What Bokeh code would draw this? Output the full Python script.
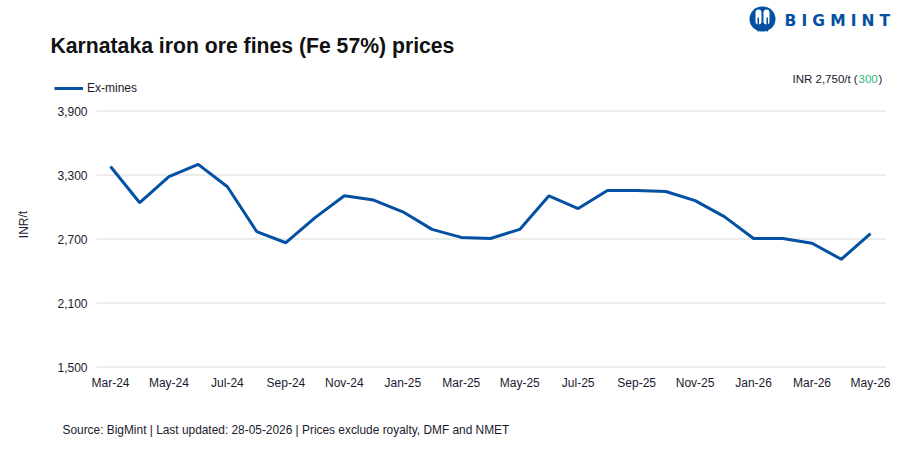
from bokeh.embed import file_html
from bokeh.models import BoxAnnotation, FixedTicker, Label, Legend, LegendItem, Range1d
from bokeh.plotting import figure
from bokeh.resources import INLINE

months = ['Mar-24', 'Apr-24', 'May-24', 'Jun-24', 'Jul-24', 'Aug-24', 'Sep-24', 'Oct-24', 'Nov-24',
          'Dec-24', 'Jan-25', 'Feb-25', 'Mar-25', 'Apr-25', 'May-25', 'Jun-25', 'Jul-25', 'Aug-25',
          'Sep-25', 'Oct-25', 'Nov-25', 'Dec-25', 'Jan-26', 'Feb-26', 'Mar-26', 'Apr-26', 'May-26']
ex_mines = [3380, 3040, 3285, 3400, 3190, 2770, 2665, 2900, 3105,
            3065, 2955, 2790, 2715, 2705, 2790, 3105, 2985, 3155,
            3155, 3145, 3060, 2910, 2705, 2705, 2660, 2510, 2750]
y_ticks = [1500, 2100, 2700, 3300, 3900]

FONT = "Liberation Sans"
TEXT = "#1a1a2e"
BLUE = "#0450a2"
WIDTH, HEIGHT = 907, 462


def dx(px):
    # page pixel to data x
    return (px - 110) * 26 / 760


def dy(py):
    # page pixel to data y
    return 3900 - (py - 110.5) * 2400 / 256


# the frame fills the whole figure, anything outside of it gets clipped
p = figure(width=WIDTH, height=HEIGHT, output_backend="svg", toolbar_location=None,
           x_range=Range1d(dx(0), dx(WIDTH)), y_range=Range1d(dy(HEIGHT), dy(0)),
           min_border=0)
p.outline_line_color = None
p.background_fill_color = "white"
p.border_fill_color = "white"
p.xgrid.visible = False
p.ygrid.visible = False

# gridlines
p.segment(dx(96), y_ticks, dx(885), y_ticks, color="#d9d9d9", line_width=1)

# Ex-mines line
line = p.line(list(range(len(months))), ex_mines, color=BLUE, line_width=3)

p.xaxis.ticker = FixedTicker(ticks=list(range(0, len(months), 2)))
p.xaxis.major_label_overrides = {i: months[i] for i in range(0, len(months), 2)}
p.yaxis.ticker = FixedTicker(ticks=y_ticks)
p.yaxis.major_label_overrides = {v: f"{v:,}" for v in y_ticks}
for ax in (p.xaxis[0], p.yaxis[0]):
    ax.axis_line_color = None
    ax.major_tick_line_color = None
    ax.minor_tick_line_color = None
    ax.major_label_text_font = FONT
    ax.major_label_text_font_size = "12px"
    ax.major_label_text_color = TEXT
p.xaxis.fixed_location = 1500
p.yaxis.fixed_location = dx(96)
p.xaxis.major_label_standoff = 3
p.yaxis.major_label_standoff = 3


def add_text(px, py, text, size, color=TEXT, style="normal", font=FONT, angle=0, align="left"):
    p.add_layout(Label(x=dx(px), y=dy(py), text=text, text_font=font, text_font_size=size,
                       text_color=color, text_font_style=style, text_baseline="middle",
                       angle=angle, text_align=align))


legend = Legend(items=[LegendItem(label="Ex-mines", renderers=[line])],
                location=(54, HEIGHT - 96), border_line_color=None,
                background_fill_alpha=0, margin=0, padding=0, glyph_width=29, glyph_height=16,
                label_standoff=4, label_text_font=FONT, label_text_font_size="12px",
                label_text_color=TEXT)
p.add_layout(legend, "center")

add_text(50, 45, "Karnataka iron ore fines (Fe 57%) prices", "21.2px", "#111111", "bold")
add_text(23, 224, "INR/t", "12px", angle=1.5708, align="center")
add_text(62, 429, "Source: BigMint | Last updated: 28-05-2026 | Prices exclude royalty, DMF and NMET", "11.9px")
add_text(792, 78, "INR 2,750/t (", "11.5px")
add_text(858, 78, "300", "11.5px", "#2fb67c")
add_text(878, 78, ")", "11.5px")

# logo
add_text(784, 20, "B\u2004I\u2004G\u2004M\u2004I\u2004N\u2004T", "15.5px", BLUE, "bold", "DejaVu Sans")
p.add_layout(BoxAnnotation(left=dx(749), right=dx(775), top=dy(6), bottom=dy(31),
                           fill_color=BLUE, fill_alpha=1, line_color=None, border_radius=13))
for left, right in ((755, 761), (763, 769)):
    p.add_layout(BoxAnnotation(left=dx(left), right=dx(right), top=dy(9), bottom=dy(24),
                               fill_color="white", fill_alpha=1, line_color=None, border_radius=3))
for left, right in ((757, 758.5), (766, 767.5)):
    p.add_layout(BoxAnnotation(left=dx(left), right=dx(right), top=dy(17), bottom=dy(31),
                               fill_color=BLUE, fill_alpha=1, line_color=None))

open("out.html", "w").write(file_html(p, INLINE))
